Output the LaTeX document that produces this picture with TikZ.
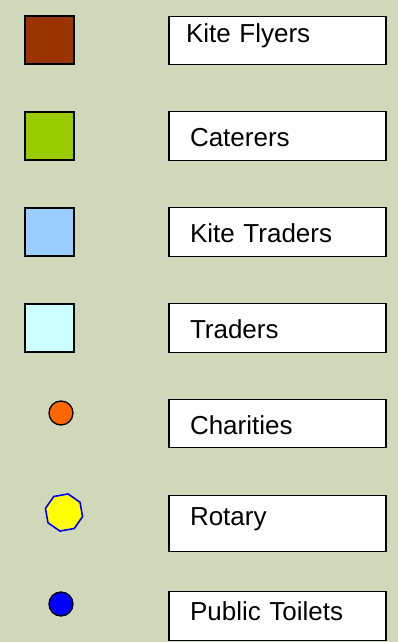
\documentclass[tikz,border=0pt]{standalone}
\usepackage{fontspec}
\setmainfont{Liberation Sans}
\usetikzlibrary{shapes.geometric, positioning}
\definecolor{kbg}{HTML}{CFD9BA}
\definecolor{kbrown}{HTML}{993300}
\definecolor{kgreen}{HTML}{99CC00}
\definecolor{ksky}{HTML}{99CCFF}
\definecolor{kpale}{HTML}{CCFFFF}
\definecolor{korange}{HTML}{FF6600}
\definecolor{kyellow}{HTML}{FFFF00}
\definecolor{kblue}{HTML}{0000FF}
\tikzset{
  swatch/.style={rectangle, draw=black, line width=2pt, minimum width=49pt,
                 minimum height=48pt, inner sep=0pt, outer sep=0pt},
  legbox/.style={rectangle, draw=black, line width=1.4pt, fill=white, text=black,
                 inner xsep=21pt, inner ysep=0pt, outer sep=0pt, text width=175pt, align=left,
                 text height=35pt, text depth=14pt, font=\fontsize{26}{30}\selectfont},
  dot/.style={circle, draw=black, line width=1.3pt, minimum size=24pt, inner sep=0pt},
  octo/.style={regular polygon, regular polygon sides=8, shape border rotate=10,
               draw=kblue, line width=1.6pt, fill=kyellow, minimum size=38pt, inner sep=0pt}
}
\begin{document}
\begin{tikzpicture}[x=1pt, y=1pt, node distance=47pt and 95pt]
  \useasboundingbox (0,0) rectangle (398,-642);
  \fill[kbg] (0,0) rectangle (398,-642);

  \node[legbox, inner xsep=17pt, text width=183pt, text height=26pt, text depth=22pt,
        anchor=north west] (flyers) at (169,-16.5) {Kite Flyers};
  \node[legbox, below=of flyers] (caterers) {Caterers};
  \node[legbox, below=of caterers] (kitetraders) {Kite Traders};
  \node[legbox, below=of kitetraders] (traders) {Traders};
  \node[legbox, text depth=13pt, below=of traders] (charities) {Charities};
  \node[legbox, text height=30pt, text depth=26pt, below=48pt of charities] (rotary) {Rotary};
  \node[legbox, text height=29pt, text depth=20pt, below=40pt of rotary] (toilets) {Public Toilets};

  \node[swatch, fill=kbrown, left=of flyers] (flyerssw) {};
  \node[swatch, fill=kgreen, left=of caterers] (catererssw) {};
  \node[swatch, fill=ksky, left=of kitetraders] (kitetraderssw) {};
  \node[swatch, fill=kpale, left=of traders] (traderssw) {};

  \node[dot, fill=korange] (charitiesdot) at (61,-413) {};
  \node[octo] (rotarydot) at (64,-512.5) {};
  \node[dot, fill=kblue] (toiletsdot) at (61,-604) {};
\end{tikzpicture}
\end{document}
